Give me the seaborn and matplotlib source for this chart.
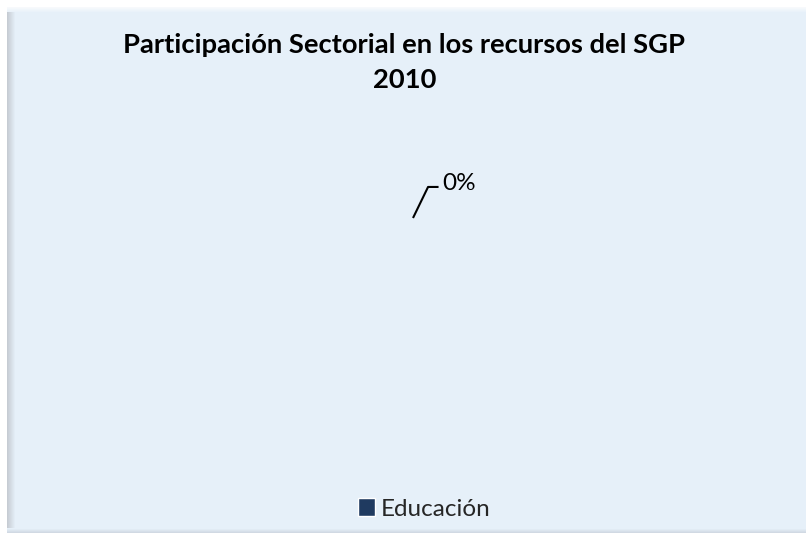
import numpy as np
import pandas as pd
import seaborn as sns
import matplotlib
matplotlib.use("Agg")
import matplotlib.pyplot as plt
from matplotlib.patches import Rectangle, Wedge

# Sector shares of SGP resources, 2010
categories = ["Educación"]
values = [0]
title_lines = ["Participación Sectorial en los recursos del SGP", "2010"]

df = pd.DataFrame({"sector": categories, "valor": values})

sns.set_theme(style="white")
plt.rcParams["font.family"] = ["Lato", "DejaVu Sans"]

W, H = 806, 533
fig = plt.figure(figsize=(W / 100, H / 100), dpi=100)
fig.patch.set_facecolor("white")

# Panel background with a bevelled frame
bg = fig.add_axes([0, 0, 1, 1])
bg.set_xlim(0, W)
bg.set_ylim(H, 0)
bg.axis("off")
base = np.array([0.905, 0.945, 0.980])
img = np.ones((H, W, 3)) * base
img[:7, :, :] = 1.0
img[:, :7, :] = 1.0
# left bevel
for i in range(7, 15):
    t = (i - 7) / 8
    img[7:, i, :] = (1 - t) * np.array([0.78, 0.80, 0.83]) + t * base
# top bevel highlight
for j in range(7, 12):
    t = (j - 7) / 5
    img[j, 7:, :] = (1 - t) * np.array([0.97, 0.98, 0.99]) + t * base
# bottom edge
for j in range(H - 5, H):
    t = (j - (H - 5)) / 5
    img[j, 7:, :] = (1 - t) * base + t * np.array([0.80, 0.83, 0.87])
bg.imshow(img, extent=[0, W, H, 0], aspect="auto", zorder=0)

# Title
fig.text(404 / W, 1 - 45 / H, title_lines[0], ha="center", va="center",
         fontsize=19.7, fontweight="bold", color="black")
fig.text(405 / W, 1 - 80 / H, title_lines[1], ha="center", va="center",
         fontsize=19.7, fontweight="bold", color="black")

# Pie area
cx, cy, r = 413, 349, 131
ax = fig.add_axes([(cx - r) / W, 1 - (cy + r) / H, 2 * r / W, 2 * r / H])
ax.set_xlim(-1, 1)
ax.set_ylim(-1, 1)
ax.axis("off")
ax.patch.set_alpha(0)

pie_color = "#1f3a60"
total = df["valor"].sum()
start = 90.0
for _, row in df.iterrows():
    share = row["valor"] / total if total else 0.0
    sweep = 360.0 * share
    if sweep > 0:
        ax.add_patch(Wedge((0, 0), 1, start - sweep, start, facecolor=pie_color,
                           edgecolor="white"))
    mid = np.deg2rad(start - sweep / 2)
    x0, y0 = np.cos(mid), np.sin(mid)
    x1, y1 = x0 + 0.115, y0 + 0.237
    x2 = x1 + 0.08
    ax.plot([x0, x1, x2], [y0, y1, y1], color="black", lw=1.5,
            solid_capstyle="butt", clip_on=False)
    ax.text(x2 + 0.03, y1 + 0.03, f"{share * 100:.0f}%", ha="left", va="center",
            fontsize=17.5, color="black", clip_on=False)
    start -= sweep

# Legend
handles = [Rectangle((0, 0), 1, 1, facecolor=pie_color) for _ in categories]
leg = fig.legend(handles, categories, loc="center", bbox_to_anchor=(424 / W, 1 - 509 / H),
                 frameon=False, fontsize=17.5, handlelength=0.7, handleheight=0.7,
                 handletextpad=0.25, borderpad=0)

fig.savefig("out.png", dpi=100)
